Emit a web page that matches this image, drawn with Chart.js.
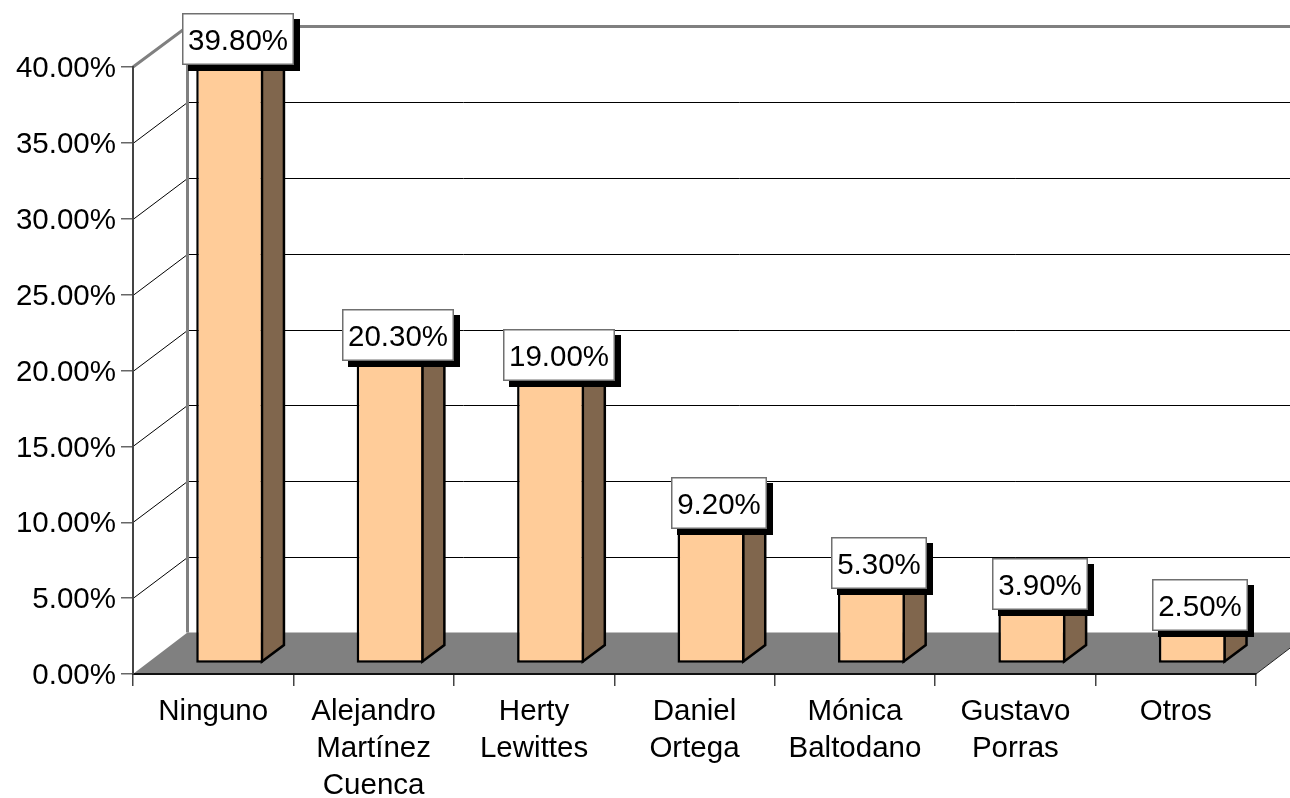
<!DOCTYPE html>
<html><head><meta charset="utf-8">
<style>html,body{margin:0;padding:0;background:#fff}canvas{display:block}</style>
<script src="https://cdn.jsdelivr.net/npm/chart.js@4"></script>
</head><body><canvas id="c" width="1290" height="798"></canvas>
<script>
const categories = [
  "Ninguno",
  ["Alejandro","Martínez","Cuenca"],
  ["Herty","Lewittes"],
  ["Daniel","Ortega"],
  ["Mónica","Baltodano"],
  ["Gustavo","Porras"],
  "Otros"
];
const values = [39.8, 20.3, 19.0, 9.2, 5.3, 3.9, 2.5];
const fontFamily = '"Liberation Sans", Arial, sans-serif';
const fontSize = 29.5;
const wall = {dx: 54.5, dy: -40.5, floorDy: -41.5};
const barShift = {dx: 16.5, dy: -10.5};
const barDepth = {dx: 22, dy: -16.5};
const labelShift = {dx: 8, dy: -20.5};
const barLine = 2.5;
const fmt = v => v.toFixed(2) + '%';

function poly(ctx, pts, fill, stroke, lw) {
  ctx.beginPath();
  pts.forEach((p, i) => i ? ctx.lineTo(p[0], p[1]) : ctx.moveTo(p[0], p[1]));
  ctx.closePath();
  if (fill) { ctx.fillStyle = fill; ctx.fill(); }
  if (stroke) { ctx.strokeStyle = stroke; ctx.lineWidth = lw; ctx.lineJoin = 'miter'; ctx.stroke(); }
}
function line(ctx, pts, color, lw) {
  ctx.beginPath();
  pts.forEach((p, i) => i ? ctx.lineTo(p[0], p[1]) : ctx.moveTo(p[0], p[1]));
  ctx.strokeStyle = color; ctx.lineWidth = lw; ctx.stroke();
}

const walls3d = {
  id: 'walls3d',
  beforeDraw(chart) {
    const {ctx, scales: {x, y}} = chart;
    const L = x.left, R = x.right, B = y.bottom, T = y.top;
    ctx.save();
    ctx.fillStyle = '#fff';
    ctx.fillRect(0, 0, chart.width, chart.height);
    poly(ctx, [[L, B], [L + wall.dx, B + wall.floorDy], [R + wall.dx, B + wall.floorDy], [R, B]], '#808080');
    line(ctx, [[R, B], [R + wall.dx, B + wall.floorDy]], '#222', 1);
    y.ticks.forEach(t => {
      if (t.value === y.min || t.value === y.max) return;
      const py = Math.round(y.getPixelForValue(t.value)) + 0.5;
      line(ctx, [[L, py], [L + wall.dx, py - 41], [R + wall.dx, py - 41]], '#000', 1);
    });
    line(ctx, [[L, T], [L + wall.dx, T + wall.dy], [R + wall.dx, T + wall.dy]], '#808080', 3);
    line(ctx, [[L + wall.dx, T + wall.dy], [L + wall.dx, B + wall.floorDy]], '#808080', 3);
    ctx.restore();
  },
  beforeDatasetDraw(chart, args) {
    const ctx = chart.ctx;
    ctx.save();
    ctx.translate(barShift.dx, barShift.dy);
    const d = barDepth;
    chart.getDatasetMeta(args.index).data.forEach(bar => {
      const w = bar.width / 2 - barLine / 2;
      const r = bar.x + w, l = bar.x - w, t = bar.y + barLine / 2, b = bar.base - barLine / 2;
      poly(ctx, [[r, t], [r + d.dx, t + d.dy], [r + d.dx, b + d.dy], [r, b]], '#80664D', '#000', barLine);
      poly(ctx, [[l, t], [l + d.dx, t + d.dy], [r + d.dx, t + d.dy], [r, t]], '#CCA37A', '#000', barLine);
    });
  },
  afterDatasetDraw(chart) { chart.ctx.restore(); },
  afterDatasetsDraw(chart) {
    const ctx = chart.ctx;
    ctx.save();
    ctx.font = fontSize + 'px ' + fontFamily;
    ctx.textAlign = 'center';
    ctx.textBaseline = 'middle';
    chart.getDatasetMeta(0).data.forEach((bar, i) => {
      const text = fmt(values[i]);
      const tw = ctx.measureText(text).width;
      const bw = Math.round(tw + 12), bh = 52;
      const cx = bar.x + barShift.dx + labelShift.dx;
      const cy = bar.y + barShift.dy + labelShift.dy;
      const x0 = Math.round(cx - bw / 2), y0 = Math.round(cy - bh / 2);
      ctx.fillStyle = '#000';
      ctx.fillRect(x0 + 6, y0 + 6, bw, bh);
      ctx.fillStyle = '#fff';
      ctx.fillRect(x0, y0, bw, bh);
      ctx.strokeStyle = '#707070';
      ctx.lineWidth = 1.5;
      ctx.strokeRect(x0 + 0.75, y0 + 0.75, bw - 1.5, bh - 1.5);
      ctx.fillStyle = '#000';
      ctx.fillText(text, x0 + bw / 2, y0 + bh / 2 + 2.5);
    });
    ctx.restore();
  }
};

new Chart(document.getElementById('c'), {
  type: 'bar',
  data: {
    labels: categories,
    datasets: [{
      data: values,
      backgroundColor: '#FFCC99',
      borderColor: '#000',
      borderWidth: barLine,
      borderSkipped: false,
      barPercentage: 0.4174,
      categoryPercentage: 1,
      clip: false
    }]
  },
  options: {
    responsive: false,
    animation: false,
    layout: {padding: {top: 67, right: 34, left: 0, bottom: 0}},
    plugins: {legend: {display: false}, tooltip: {enabled: false}, title: {display: false}},
    scales: {
      x: {
        offset: true,
        afterFit(s) { s.height = 124; },
        grid: {offset: true, drawOnChartArea: false, drawTicks: true, tickLength: 12, color: '#444', lineWidth: 1.5},
        border: {display: true, color: '#111', width: 2},
        ticks: {
          autoSkip: false, maxRotation: 0, minRotation: 0, padding: 7, color: '#000',
          font: {family: fontFamily, size: fontSize, lineHeight: 1.254}
        }
      },
      y: {
        min: 0, max: 40,
        afterFit(s) { s.width = 133; },
        grid: {drawOnChartArea: false, drawTicks: true, tickLength: 12, color: '#666', lineWidth: 1.5},
        border: {display: true, color: '#444', width: 2},
        ticks: {
          stepSize: 5, padding: 5, labelOffset: 2, color: '#000',
          font: {family: fontFamily, size: fontSize},
          callback: v => fmt(v)
        }
      }
    }
  },
  plugins: [walls3d]
});
</script></body></html>
